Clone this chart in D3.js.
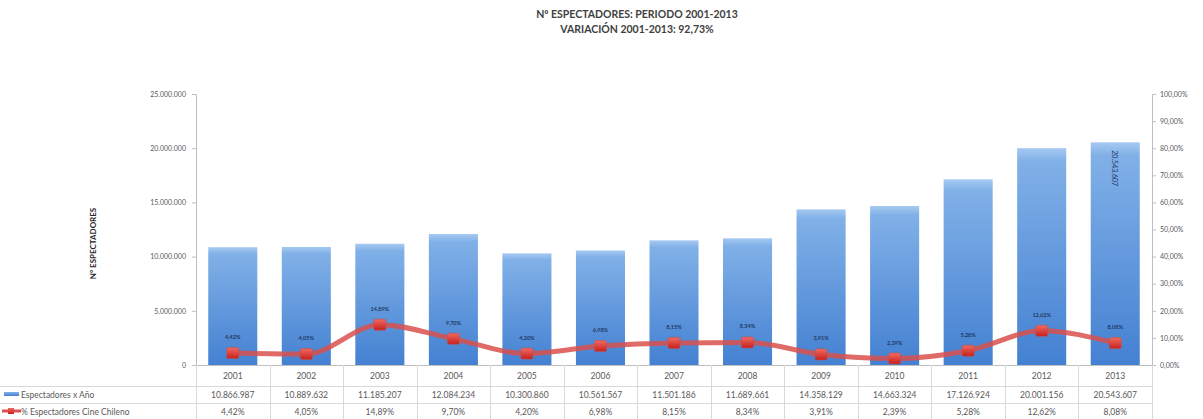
<!DOCTYPE html>
<html>
<head>
<meta charset="utf-8">
<script src="https://cdn.jsdelivr.net/npm/d3@7/dist/d3.min.js"></script>
<style>
  html, body { margin: 0; padding: 0; background: #fff; }
  svg { display: block; font-family: Lato, "Open Sans", sans-serif; }
</style>
</head>
<body>
<svg id="chart" width="1203" height="419"></svg>
<script>
// Annual spectators and share of Chilean films, 2001-2013
const years = ["2001","2002","2003","2004","2005","2006","2007","2008","2009","2010","2011","2012","2013"];
const spectators = [10866987, 10889632, 11185207, 12084234, 10300860, 10561567, 11501186, 11689661, 14358129, 14663324, 17126924, 20001156, 20543607];
const chileanShare = [4.42, 4.05, 14.89, 9.70, 4.20, 6.98, 8.15, 8.34, 3.91, 2.39, 5.28, 12.62, 8.08];
const leftTicks = [0, 5000000, 10000000, 15000000, 20000000, 25000000];
const rightTicks = [0, 10, 20, 30, 40, 50, 60, 70, 80, 90, 100];
const titleLines = ["Nº ESPECTADORES: PERIODO 2001-2013", "VARIACIÓN 2001-2013: 92,73%"];
const seriesNames = ["Espectadores x Año", "% Espectadores Cine Chileno"];

const svg = d3.select("#chart");
const plot = { left: 196, right: 1152, top: 94, bottom: 365 };
const rows = { year: 365, value: 386, pct: 403, end: 420 };

const fmtInt = v => d3.format(",")(v).replace(/,/g, ".");
const fmtPct = v => v.toFixed(2).replace(".", ",") + "%";

const x = d3.scaleBand().domain(years).range([plot.left, plot.right]).padding(0);
const y = d3.scaleLinear().domain([0, 25000000]).range([plot.bottom, plot.top]);
const y2 = d3.scaleLinear().domain([0, 100]).range([plot.bottom, plot.top]);
const barW = x.bandwidth() * 0.667;
const cx = d => x(d) + x.bandwidth() / 2;

const defs = svg.append("defs");
const barGrad = defs.append("linearGradient").attr("id", "barGrad").attr("x1", 0).attr("y1", 0).attr("x2", 0).attr("y2", 1);
barGrad.append("stop").attr("offset", "0%").attr("stop-color", "#a6c9f1");
barGrad.append("stop").attr("offset", "6%").attr("stop-color", "#80b0e7");
barGrad.append("stop").attr("offset", "100%").attr("stop-color", "#4481d2");
const mkGrad = defs.append("linearGradient").attr("id", "mkGrad").attr("x1", 0).attr("y1", 0).attr("x2", 0).attr("y2", 1);
mkGrad.append("stop").attr("offset", "0%").attr("stop-color", "#f06a62");
mkGrad.append("stop").attr("offset", "100%").attr("stop-color", "#c8201c");

// Title
svg.append("g").selectAll("text").data(titleLines).join("text")
  .attr("x", 637).attr("y", (d, i) => 18 + i * 14.5)
  .attr("text-anchor", "middle").attr("font-size", 10.5).attr("font-weight", 700)
  .attr("fill", "#404040").text(d => d);

// Left axis
const gl = svg.append("g").attr("transform", `translate(${plot.left},0)`)
  .call(d3.axisLeft(y).tickValues(leftTicks).tickSize(4).tickFormat(fmtInt));
gl.select(".domain").attr("stroke", "#bfbfbf");
gl.selectAll(".tick line").attr("stroke", "#bfbfbf");
gl.selectAll(".tick text").attr("font-size", 7).attr("fill", "#595959").attr("x", -10).attr("font-family", "Lato, sans-serif");

// Right axis
const gr = svg.append("g").attr("transform", `translate(${plot.right},0)`)
  .call(d3.axisRight(y2).tickValues(rightTicks).tickSize(4).tickFormat(fmtPct));
gr.select(".domain").attr("stroke", "#bfbfbf");
gr.selectAll(".tick line").attr("stroke", "#bfbfbf");
gr.selectAll(".tick text").attr("font-size", 7).attr("fill", "#595959").attr("x", 8).attr("font-family", "Lato, sans-serif");

// Left axis title
svg.append("text")
  .attr("transform", `translate(96,${(plot.top + plot.bottom) / 2 + 14}) rotate(-90)`)
  .attr("text-anchor", "middle").attr("font-size", 8).attr("font-weight", 700)
  .attr("fill", "#262626").text("Nº ESPECTADORES");

// Bars
svg.append("g").selectAll("rect").data(years).join("rect")
  .attr("x", d => cx(d) - barW / 2)
  .attr("y", (d, i) => y(spectators[i]))
  .attr("width", barW)
  .attr("height", (d, i) => y(0) - y(spectators[i]))
  .attr("fill", "url(#barGrad)");

// Value label on the last bar
const last = years.length - 1;
svg.append("text")
  .attr("transform", `translate(${cx(years[last]) - 3},${y(spectators[last]) + 8}) rotate(90)`)
  .attr("font-size", 7).attr("fill", "#1f3864").text(fmtInt(spectators[last]));

// Share line
const line = d3.line().x((d, i) => cx(years[i])).y(d => y2(d)).curve(d3.curveMonotoneX);
svg.append("path").datum(chileanShare).attr("d", line)
  .attr("fill", "none").attr("stroke", "#d9504c").attr("stroke-width", 5)
  .attr("stroke-linejoin", "round").attr("opacity", 0.85);

svg.append("g").selectAll("rect").data(chileanShare).join("rect")
  .attr("x", (d, i) => cx(years[i]) - 6)
  .attr("y", d => y2(d) - 5.5)
  .attr("width", 12).attr("height", 11).attr("rx", 1.5)
  .attr("fill", "url(#mkGrad)").attr("stroke", "#c0504d").attr("stroke-width", 0.6);

svg.append("g").selectAll("text").data(chileanShare).join("text")
  .attr("x", (d, i) => cx(years[i]))
  .attr("y", d => y2(d) - 14)
  .attr("text-anchor", "middle").attr("font-size", 5.5).attr("font-weight", 700)
  .attr("fill", "#1f3864").text(d => fmtPct(d));

// Data table grid
const grid = svg.append("g").attr("stroke", "#d9d9d9").attr("stroke-width", 1);
[rows.value, rows.pct].forEach(yy =>
  grid.append("line").attr("x1", 0).attr("x2", plot.right).attr("y1", yy + 0.5).attr("y2", yy + 0.5));
grid.append("line").attr("x1", plot.left).attr("x2", plot.right).attr("y1", rows.year + 0.5).attr("y2", rows.year + 0.5).attr("stroke", "#bfbfbf");
grid.selectAll("line.col").data(years.concat(["end"])).join("line").attr("class", "col")
  .attr("x1", (d, i) => Math.round(i < years.length ? x(d) : plot.right) + 0.5)
  .attr("x2", (d, i) => Math.round(i < years.length ? x(d) : plot.right) + 0.5)
  .attr("y1", rows.year).attr("y2", rows.end);

const cell = (arr, yy, fmt) => svg.append("g").selectAll("text").data(arr).join("text")
  .attr("x", (d, i) => cx(years[i])).attr("y", yy)
  .attr("text-anchor", "middle").attr("font-size", 8.5).attr("fill", "#595959").text(fmt);
cell(years, 379, d => d);
cell(spectators, 398, fmtInt);
cell(chileanShare, 415, fmtPct);

// Legend keys in the table
svg.append("rect").attr("x", 4).attr("y", 392).attr("width", 15).attr("height", 4).attr("fill", "url(#barGrad)");
svg.append("line").attr("x1", 2).attr("x2", 21).attr("y1", 411).attr("y2", 411)
  .attr("stroke", "#d9504c").attr("stroke-width", 3);
svg.append("rect").attr("x", 8).attr("y", 408).attr("width", 6).attr("height", 6).attr("fill", "url(#mkGrad)");
svg.append("g").selectAll("text").data(seriesNames).join("text")
  .attr("x", 21).attr("y", (d, i) => 398 + i * 17)
  .attr("font-size", 8.5).attr("fill", "#595959").text(d => d);
</script>
</body>
</html>
